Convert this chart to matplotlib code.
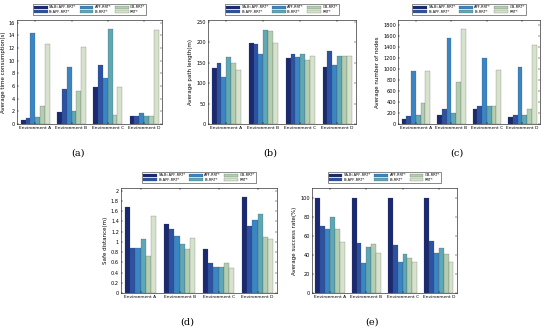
import numpy as np
import matplotlib
matplotlib.use('Agg')
import matplotlib.pyplot as plt

envs = ['Environment A', 'Environment B', 'Environment C', 'Environment D']
methods = ['SA-Bi-APF-RRT*', 'Bi-APF-RRT*', 'APF-RRT*', 'Bi-RRT*', 'GB-RRT*', 'RRT*']
colors = ['#1a2a72', '#2c52a4', '#3a86c4', '#5ea7b4', '#b2cdb0', '#d6e2cc']

# rows = methods, cols = environments
time_cost = [[0.6, 1.9, 5.8, 1.2],
             [0.9, 5.6, 9.3, 1.2],
             [14.3, 9.0, 7.2, 1.7],
             [1.1, 2.1, 15.0, 1.3],
             [2.8, 5.2, 1.4, 1.3],
             [12.7, 12.2, 5.8, 14.9]]
path_len = [[138, 197, 161, 140],
            [148, 196, 172, 179],
            [116, 171, 163, 143],
            [163, 229, 172, 167],
            [149, 227, 157, 165],
            [132, 199, 166, 167]]
nodes = [[100, 160, 280, 120],
         [140, 270, 330, 160],
         [970, 1570, 1200, 1030],
         [160, 200, 330, 170],
         [380, 760, 330, 280],
         [970, 1730, 980, 1430]]
safe_dist = [[1.68, 1.34, 0.86, 1.87],
             [0.88, 1.25, 0.58, 1.30],
             [0.88, 1.12, 0.51, 1.42],
             [1.06, 0.95, 0.50, 1.54],
             [0.72, 0.85, 0.58, 1.10],
             [1.50, 1.07, 0.49, 1.06]]
success = [[100, 100, 100, 100],
           [70, 52, 50, 54],
           [67, 31, 32, 42],
           [80, 48, 41, 47],
           [67, 51, 37, 41],
           [53, 42, 32, 32]]

panels = [
    (time_cost, 'Average time consumption(s)', (0, 16.4), np.arange(0, 17, 2), [0.031, 0.6265, 0.264, 0.313], '(a)'),
    (path_len, 'Average path length(m)', (0, 254), np.arange(0, 251, 50), [0.378, 0.6265, 0.269, 0.313], '(b)'),
    (nodes, 'Average number of nodes', (0, 1890), np.arange(0, 1801, 200), [0.724, 0.6265, 0.258, 0.313], '(c)'),
    (safe_dist, 'Safe distance(m)', (0, 2.05), np.round(np.arange(0, 2.01, 0.2), 1), [0.22, 0.1175, 0.284, 0.316], '(d)'),
    (success, 'Average success rate(%)', (0, 110), np.arange(0, 101, 20), [0.567, 0.1175, 0.264, 0.316], '(e)'),
]

fig = plt.figure(figsize=(5.5, 3.32), dpi=100)
x = np.arange(len(envs))
w = 0.8 / len(methods)

for data, ylabel, ylim, yticks, pos, tag in panels:
    ax = fig.add_axes(pos)
    for i, m in enumerate(methods):
        ax.bar(x - 0.4 + w * (i + 0.5), data[i], w, color=colors[i],
               edgecolor='#444444', linewidth=0.15, label=m)
    ax.set_xlim(-0.5, 3.5)
    ax.set_ylim(*ylim)
    ax.set_yticks(yticks)
    ax.set_yticklabels([('%g' % t) for t in yticks])
    ax.set_xticks(x)
    ax.set_xticklabels(envs)
    ax.tick_params(labelsize=3.6, direction='in', length=1.5, width=0.3, pad=1.5,
                   top=True, right=True)
    ax.tick_params(axis='x', labelsize=3.2)
    ax.set_ylabel(ylabel, fontsize=4, labelpad=2)
    for s in ax.spines.values():
        s.set_linewidth(0.4)
    leg = ax.legend(ncol=3, fontsize=2.6, loc='lower center', bbox_to_anchor=(0.5, 1.03),
                    frameon=True, fancybox=False, edgecolor='#333333', framealpha=1,
                    handlelength=3.8, handleheight=0.9, columnspacing=0.9,
                    labelspacing=0.2, borderpad=0.3, handletextpad=0.4)
    leg.get_frame().set_linewidth(0.4)
    fig.text(pos[0] + pos[2] / 2 - 0.022, pos[1] - 0.088, tag, fontsize=7,
             family='DejaVu Serif', ha='center', va='center')

fig.savefig('out.png', dpi=100)
